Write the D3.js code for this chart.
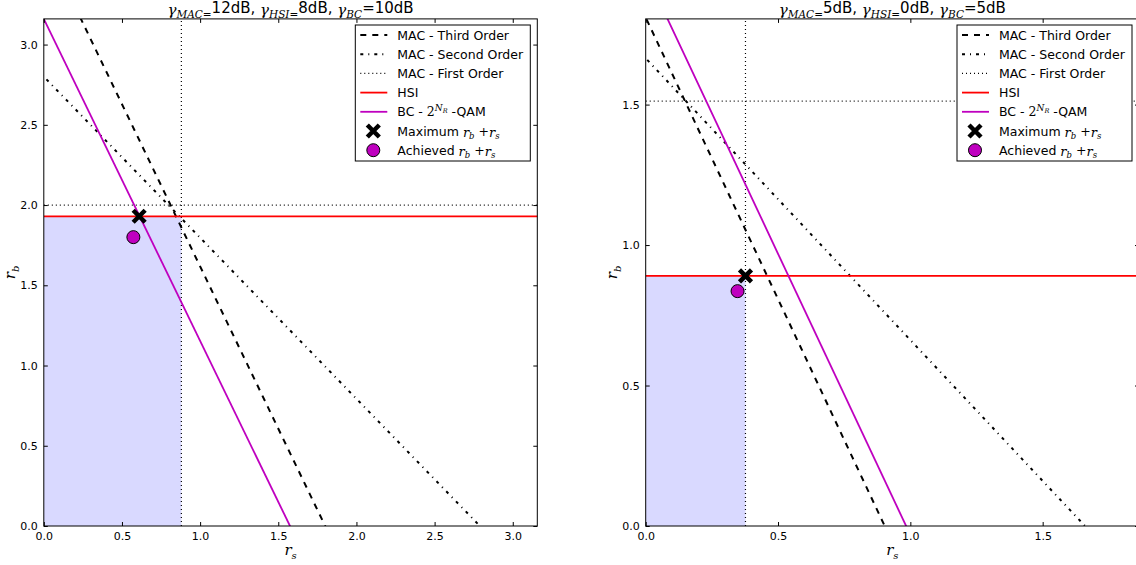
<!DOCTYPE html>
<html>
<head>
<meta charset="utf-8">
<script src="https://cdn.jsdelivr.net/npm/d3@7"></script>
<style>
  body { margin: 0; background: #fff; }
  svg { display: block; overflow: hidden; }
  text { font-family: "DejaVu Sans", sans-serif; }
</style>
</head>
<body>
<div id="chart"></div>
<script>
// values
var panelTitles = [["12dB, ", "8dB, ", "=10dB"], ["5dB, ", "0dB, ", "=5dB"]];
var xTicksL = [0, 0.5, 1, 1.5, 2, 2.5, 3];
var yTicksL = [0, 0.5, 1, 1.5, 2, 2.5, 3];
var xTicksR = [0, 0.5, 1, 1.5];
var yTicksR = [0, 0.5, 1, 1.5];
var xMaxL = 3.157, yMaxL = 3.16;
var xMaxR = 1.864, yMaxR = 1.805;

// left panel (rs, rb)
var macThirdL = [[0, 3.64], [1.80, 0]];
var macSecondL = [[0, 2.80], [2.79, 0]];
var macFirstL = [0.88, 2.0];
var hsiL = 1.93;
var bcL = [[0, 3.16], [1.575, 0]];
var maxPtL = [0.61, 1.93];
var achPtL = [0.573, 1.80];

// right panel
var macThirdR = [[0, 1.81], [0.903, 0]];
var macSecondR = [[0, 1.665], [1.66, 0]];
var macFirstR = [0.377, 1.512];
var hsiR = 0.89;
var bcR = [[0, 1.97], [0.984, 0]];
var maxPtR = [0.377, 0.89];
var achPtR = [0.347, 0.836];

var legendLabels = ["MAC - Third Order", "MAC - Second Order", "MAC - First Order", "HSI", "BC", "Maximum", "Achieved"];

var svgwidth = 1136, svgheight = 565;
var svg = d3.select("#chart").append("svg")
    .attr("width", svgwidth)
    .attr("height", svgheight);

var serif = "'DejaVu Serif', serif";

// parts: [text, kind, size, shift]  kind: "n" normal, "i" serif italic, "s" serif
function richText(t, parts) {
  var cur = 0;
  parts.forEach(function (p) {
    var ts = t.append("tspan").text(p[0]);
    if (p[1] === "i") ts.attr("font-family", serif).attr("font-style", "italic");
    if (p[1] === "s") ts.attr("font-family", serif);
    if (p[2]) ts.attr("font-size", p[2]);
    var sh = p[3] || 0;
    if (sh !== cur) { ts.attr("dy", sh - cur); cur = sh; }
  });
}

function drawPanel(opt) {
  var left = opt.left, right = opt.right, top = 18.9, bottom = 526;
  var x = d3.scaleLinear().domain([0, opt.xMax]).range([left, right]);
  var y = d3.scaleLinear().domain([0, opt.yMax]).range([bottom, top]);
  var g = svg.append("g");
  var clipId = "clip" + opt.id;
  svg.append("clipPath").attr("id", clipId).append("rect")
    .attr("x", left).attr("y", top).attr("width", right - left).attr("height", bottom - top);
  var pg = g.append("g").attr("clip-path", "url(#" + clipId + ")");

  // shaded achievable region
  pg.append("rect")
    .attr("x", x(0)).attr("y", y(opt.hsi))
    .attr("width", x(opt.first[0]) - x(0))
    .attr("height", y(0) - y(opt.hsi))
    .attr("fill", "#d9d9ff");

  var line = d3.line().x(d => x(d[0])).y(d => y(d[1]));
  function ext(seg) {
    // extend the segment through the plot so that clipping trims it
    var p0 = seg[0], p1 = seg[1];
    var dx = p1[0] - p0[0], dy = p1[1] - p0[1];
    return [[p0[0] - dx, p0[1] - dy], [p1[0] + dx, p1[1] + dy]];
  }

  pg.append("path").attr("d", line(ext(opt.third))).attr("fill", "none")
    .attr("stroke", "#000").attr("stroke-width", 2).attr("stroke-dasharray", "6,6");
  pg.append("path").attr("d", line(ext(opt.second))).attr("fill", "none")
    .attr("stroke", "#000").attr("stroke-width", 2).attr("stroke-dasharray", "3,5,1,5");
  pg.append("path").attr("d", line([[opt.first[0], 0], [opt.first[0], opt.yMax * 2]])).attr("fill", "none")
    .attr("stroke", "#000").attr("stroke-width", 1.2).attr("stroke-dasharray", "1,3");
  pg.append("path").attr("d", line([[0, opt.first[1]], [opt.xMax * 2, opt.first[1]]])).attr("fill", "none")
    .attr("stroke", "#000").attr("stroke-width", 1.2).attr("stroke-dasharray", "1,3");
  pg.append("path").attr("d", line([[0, opt.hsi], [opt.xMax * 2, opt.hsi]])).attr("fill", "none")
    .attr("stroke", "#ff0000").attr("stroke-width", 1.8);
  pg.append("path").attr("d", line(ext(opt.bc))).attr("fill", "none")
    .attr("stroke", "#bf00bf").attr("stroke-width", 1.8);

  // markers
  g.append("circle").attr("cx", x(opt.ach[0])).attr("cy", y(opt.ach[1])).attr("r", 6.5)
    .attr("fill", "#bf00bf").attr("stroke", "#000").attr("stroke-width", 1);
  var mx = x(opt.max[0]), my = y(opt.max[1]), s = 6;
  g.append("path")
    .attr("d", `M${mx - s},${my - s}L${mx + s},${my + s}M${mx - s},${my + s}L${mx + s},${my - s}`)
    .attr("stroke", "#000").attr("stroke-width", 4.5);

  // axes, ticks inside on all four sides
  var tl = 4;
  g.append("g").attr("transform", `translate(0,${bottom})`)
    .call(d3.axisBottom(x).tickValues(opt.xTicks).tickSize(-tl).tickPadding(6).tickFormat(d3.format(".1f")));
  g.append("g").attr("transform", `translate(0,${top})`)
    .call(d3.axisTop(x).tickValues(opt.xTicks).tickSize(-tl).tickFormat(""));
  g.append("g").attr("transform", `translate(${left},0)`)
    .call(d3.axisLeft(y).tickValues(opt.yTicks).tickSize(-tl).tickPadding(6).tickFormat(d3.format(".1f")));
  g.append("g").attr("transform", `translate(${right},0)`)
    .call(d3.axisRight(y).tickValues(opt.yTicks).tickSize(-tl).tickFormat(""));
  g.selectAll(".domain").remove();
  g.selectAll(".tick line").attr("stroke", "#000");
  g.selectAll(".tick text").attr("font-size", 11).attr("font-family", "'DejaVu Sans', sans-serif").attr("fill", "#000");
  g.append("rect").attr("x", left).attr("y", top).attr("width", right - left).attr("height", bottom - top)
    .attr("fill", "none").attr("stroke", "#000").attr("stroke-width", 1);

  // axis labels
  var xl = g.append("text").attr("x", (left + right) / 2).attr("y", 555)
    .attr("text-anchor", "middle").attr("font-size", 15);
  richText(xl, [["r", "i"], ["s", "i", 10, 4]]);
  var yl = g.append("text").attr("transform", `translate(${left - 29},${(top + bottom) / 2}) rotate(-90)`)
    .attr("text-anchor", "middle").attr("font-size", 15);
  richText(yl, [["r", "i"], ["b", "i", 10, 4]]);

  // title
  var tt = g.append("text").attr("x", (left + right) / 2).attr("y", 13)
    .attr("text-anchor", "middle").attr("font-size", 15);
  richText(tt, [
    ["\u03b3", "i", 15, 2], ["MAC=", "i", 10.5, 5], [opt.title[0], "n", 15, 0],
    ["\u03b3", "i", 15, 2], ["HSI=", "i", 10.5, 5], [opt.title[1], "n", 15, 0],
    ["\u03b3", "i", 15, 2], ["BC", "i", 10.5, 5], [opt.title[2], "n", 15, 0]
  ]);

  // legend
  var lw = 175, lh = 136;
  var lx = right - 7 - lw, ly = 25;
  var lg = g.append("g").attr("transform", `translate(${lx},${ly})`);
  lg.append("rect").attr("width", lw).attr("height", lh).attr("fill", "#fff")
    .attr("stroke", "#000").attr("stroke-width", 1);
  var styles = [
    {dash: "6,6", c: "#000", w: 2},
    {dash: "3,5,1,5", c: "#000", w: 2},
    {dash: "1,3", c: "#000", w: 1.2},
    {dash: null, c: "#ff0000", w: 1.8},
    {dash: null, c: "#bf00bf", w: 1.8}
  ];
  legendLabels.forEach(function (lab, i) {
    var cy = 10 + i * 19.2;
    if (i < 5) {
      lg.append("line").attr("x1", 5).attr("x2", 32).attr("y1", cy).attr("y2", cy)
        .attr("stroke", styles[i].c).attr("stroke-width", styles[i].w)
        .attr("stroke-dasharray", styles[i].dash);
    } else if (i === 5) {
      var a = 18, s2 = 6;
      lg.append("path").attr("d", `M${a - s2},${cy - s2}L${a + s2},${cy + s2}M${a - s2},${cy + s2}L${a + s2},${cy - s2}`)
        .attr("stroke", "#000").attr("stroke-width", 4.5);
    } else {
      lg.append("circle").attr("cx", 18).attr("cy", cy).attr("r", 6.5)
        .attr("fill", "#bf00bf").attr("stroke", "#000");
    }
    var t = lg.append("text").attr("x", 42).attr("y", cy + 4.5).attr("font-size", 12.5);
    if (i < 4) {
      t.text(lab);
    } else if (i === 4) {
      richText(t, [["BC - "], ["2", "s"], ["N", "i", 9, -5], ["R", "i", 6.5, -3], [" -QAM", "n", 12.5, 0]]);
    } else {
      richText(t, [[lab + " "], ["r", "i", 13, 1], ["b", "i", 8.5, 3], [" +", "s", 12.5, 0],
        ["r", "i", 13, 1], ["s", "i", 8.5, 3]]);
    }
  });
}

drawPanel({id: "L", left: 43.8, right: 537.3, xMax: xMaxL, yMax: yMaxL, xTicks: xTicksL, yTicks: yTicksL,
  third: macThirdL, second: macSecondL, first: macFirstL, hsi: hsiL, bc: bcL, max: maxPtL, ach: achPtL,
  title: panelTitles[0]});
drawPanel({id: "R", left: 645.7, right: 1139, xMax: xMaxR, yMax: yMaxR, xTicks: xTicksR, yTicks: yTicksR,
  third: macThirdR, second: macSecondR, first: macFirstR, hsi: hsiR, bc: bcR, max: maxPtR, ach: achPtR,
  title: panelTitles[1]});
</script>
</body>
</html>
